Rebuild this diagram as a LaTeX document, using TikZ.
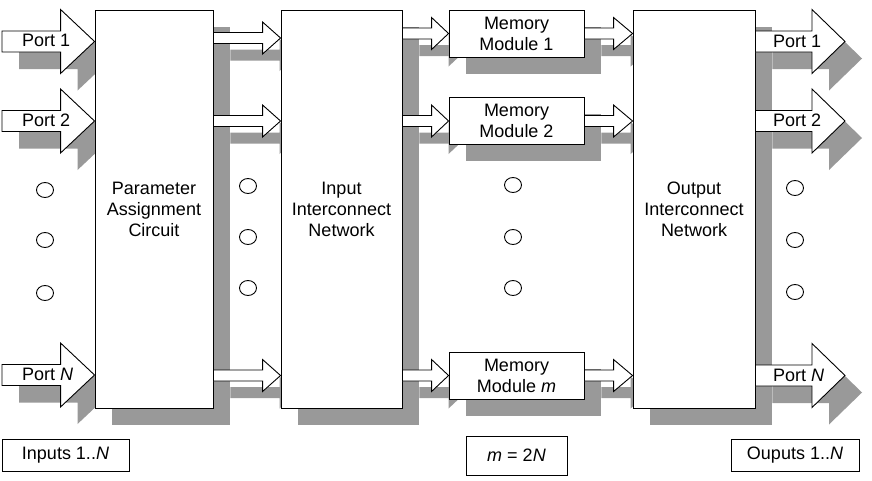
\documentclass[tikz,border=0pt]{standalone}
\usepackage{fontspec}
\setmainfont{Liberation Sans}
\usetikzlibrary{calc,shapes.geometric}
\pgfdeclarelayer{bg}
\pgfsetlayers{bg,main}
\definecolor{shd}{RGB}{153,153,153}

% block arrow: #1 style, #2 start, #3 end (only x used), #4 body half-height,
% #5 head half-height, #6 head length, #7 offset (for shadow)
\newcommand\blkarrow[7]{%
  \path[#1] let \p1=(#2), \p2=(#3) in
    (\x1+#7pt,\y1-#7pt+#4pt) -- (\x2+#7pt-#6pt,\y1-#7pt+#4pt) -- (\x2+#7pt-#6pt,\y1-#7pt+#5pt)
    -- (\x2+#7pt,\y1-#7pt) -- (\x2+#7pt-#6pt,\y1-#7pt-#5pt) -- (\x2+#7pt-#6pt,\y1-#7pt-#4pt)
    -- (\x1+#7pt,\y1-#7pt-#4pt) -- cycle;
}

\begin{document}
\begin{tikzpicture}[x=1pt,y=-1pt,
  txt/.style={font=\fontsize{18}{21}\selectfont},
  box/.style={draw, fill=white, line width=0.9pt, inner sep=0pt, align=center, txt},
  lbl/.style={draw, fill=white, line width=0.9pt, inner sep=0pt, txt},
  dot/.style={draw, ellipse, line width=0.9pt, minimum width=17, minimum height=15, inner sep=0pt},
  arrw/.style={draw, fill=white, line width=0.9pt, line join=miter},
  shdw/.style={fill=shd},
  ptxt/.style={inner sep=0pt, anchor=west, txt}]

\useasboundingbox (0,0) rectangle (872,480);

% ---- main blocks
\node[box, minimum width=118, minimum height=398] (pac) at (154,209) {Parameter\\Assignment\\Circuit};
\node[box, minimum width=121, minimum height=398] (iin) at (341.5,209) {Input\\Interconnect\\Network};
\node[box, minimum width=122, minimum height=398] (oin) at (694,209) {Output\\Interconnect\\Network};
\node[box, minimum width=135, minimum height=47] (mm1) at (516.5,33.5) {Memory\\Module 1};
\node[box, minimum width=135, minimum height=47] (mm2) at (516.5,120.5) {Memory\\Module 2};
\node[box, minimum width=135, minimum height=47] (mmm) at (516.5,375.5) {Memory\\Module \textit{m}};

% ---- rows
\coordinate (ip1) at (2,41.5);
\coordinate (ip2) at (2,121);
\coordinate (ipn) at (2,375);
\coordinate (op1) at (845,41.5);
\coordinate (op2) at (845,121);
\coordinate (opn) at (845,375.5);
\coordinate (a1) at (0,38);
\coordinate (a2) at (0,121);
\coordinate (an) at (0,375.5);
\coordinate (b1) at (0,33.5);
\coordinate (b2) at (0,121);
\coordinate (bn) at (0,375.5);

% ---- shadows
\begin{pgfonlayer}{bg}
  \fill[white] (0,0) rectangle (872,480);
  \foreach \n in {pac,iin,oin,mm1,mm2,mmm}
    \fill[shdw] ([shift={(17,17)}]\n.north west) rectangle ([shift={(17,17)}]\n.south east);
  \foreach \r in {ip1,ip2,ipn} {\blkarrow{shdw}{\r}{pac.west |- \r}{10.5}{32}{34}{17}}
  \foreach \r in {op1,op2,opn} {\blkarrow{shdw}{oin.east |- \r}{\r}{10.5}{32}{33}{17}}
  \foreach \r in {a1,a2,an} {\blkarrow{shdw}{pac.east |- \r}{iin.west |- \r}{5.5}{16}{18}{17}}
  \foreach \r in {b1,b2,bn} {\blkarrow{shdw}{iin.east |- \r}{mm1.west |- \r}{5.5}{16}{17}{17}}
  \foreach \r in {b1,b2,bn} {\blkarrow{shdw}{mm1.east |- \r}{oin.west |- \r}{5.5}{16}{19}{17}}
\end{pgfonlayer}

% ---- arrows
\foreach \r in {ip1,ip2,ipn} {\blkarrow{arrw}{\r}{pac.west |- \r}{10.5}{32}{34}{0}}
\foreach \r in {op1,op2,opn} {\blkarrow{arrw}{oin.east |- \r}{\r}{10.5}{32}{33}{0}}
\foreach \r in {a1,a2,an} {\blkarrow{arrw}{pac.east |- \r}{iin.west |- \r}{5.5}{16}{18}{0}}
\foreach \r in {b1,b2,bn} {\blkarrow{arrw}{iin.east |- \r}{mm1.west |- \r}{5.5}{16}{17}{0}}
\foreach \r in {b1,b2,bn} {\blkarrow{arrw}{mm1.east |- \r}{oin.west |- \r}{5.5}{16}{19}{0}}

% ---- port labels
\node[ptxt] (ip1t) at (22,40.5) {Port 1};
\node[ptxt] (ip2t) at (22,120) {Port 2};
\node[ptxt] (ipnt) at (22,374.5) {Port \textit{N}};
\node[ptxt] (op1t) at (773,41) {Port 1};
\node[ptxt] (op2t) at (773,120.5) {Port 2};
\node[ptxt] (opnt) at (773,375) {Port \textit{N}};

% ---- ellipsis circles
\foreach \y [count=\i] in {190,240,293} \node[dot] (cl\i) at (45,\y) {};
\foreach \y [count=\i] in {186,237,288} \node[dot] (cm\i) at (248,\y) {};
\foreach \y [count=\i] in {185,237,288} \node[dot] (cr\i) at (513,\y) {};
\foreach \y [count=\i] in {188,240,292} \node[dot] (co\i) at (795,\y) {};

% ---- bottom labels
\node[lbl, minimum width=127, minimum height=32] (inp) at (65.5,455) {Inputs 1..\textit{N}};
\node[lbl, minimum width=101, minimum height=39] (mrel) at (516.5,455.5) {\textit{m} = 2\textit{N}};
\node[lbl, minimum width=128, minimum height=32] (outp) at (795,455) {Ouputs 1..\textit{N}};
\end{tikzpicture}
\end{document}
